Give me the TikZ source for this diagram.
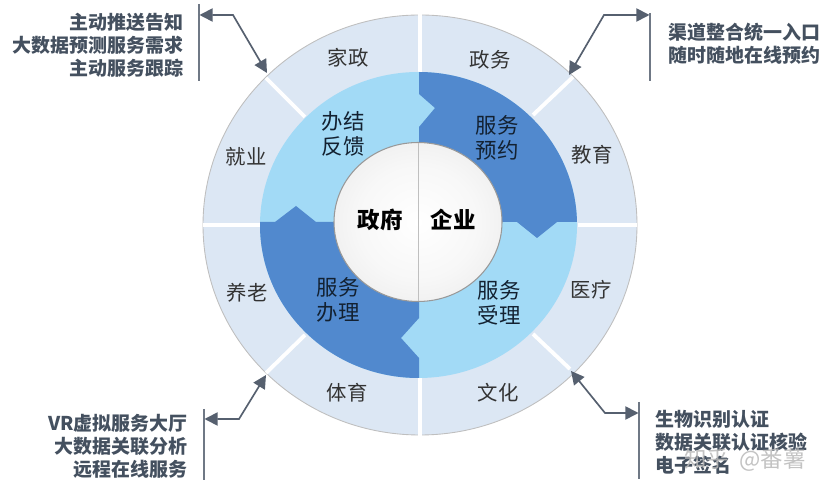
\documentclass[tikz,border=0pt]{standalone}
\usepackage{fontspec}
\setmainfont{Noto Sans CJK SC}
\usetikzlibrary{arrows.meta}
\definecolor{ringblue}{HTML}{DCE7F4}
\definecolor{lightblue}{HTML}{A2DAF6}
\definecolor{darkblue}{HTML}{5189CE}
\definecolor{leadgray}{HTML}{56606F}
\definecolor{notegray}{HTML}{44505F}
\pgfdeclareradialshading{sphereball}{\pgfpoint{0bp}{0bp}}{color(0bp)=(white); color(18bp)=(white!97!black); color(27bp)=(white!94!black); color(33bp)=(white!88!black); color(37bp)=(white!78!black); color(40bp)=(white!66!black); color(44bp)=(white!54!black); color(100bp)=(white!54!black)}
\tikzset{
	ringtext/.style={inner sep=0, text=black!80, font=\fontsize{11.6}{14}\selectfont},
	blocktext/.style={inner sep=0, align=center, text=black!60!darkblue!60!black, font=\fontsize{12.2}{14.2}\selectfont},
	coretext/.style={inner sep=0, font=\fontsize{12.8}{14}\bfseries\selectfont},
	notetext/.style={inner sep=0, text=notegray, font=\fontsize{10.8}{13.1}\bfseries\selectfont},
	leader/.style={{Triangle[length=7.5pt,width=7.5pt]}-{Triangle[length=7.5pt,width=7.5pt]}, line width=.95pt, color=leadgray},
	notebar/.style={line width=1pt, color=leadgray!85!white},
	gapline/.style={white, line width=2.2pt}
}
\begin{document}
\begin{tikzpicture}[x=.02cm, y=-.02cm]
	\useasboundingbox (0,0) rectangle (831,492);
	% outer ring
	\filldraw[fill=ringblue, draw=black!25, line width=.5pt] (420,225) ellipse (217 and 210);
	\draw[gapline] (420,14) -- (420,72);
	\draw[gapline] (420,378) -- (420,436);
	\draw[gapline] (203,225) -- (260,225);
	\draw[gapline] (578,225) -- (637,225);
	\draw[gapline] (266,78) -- (305,117);
	\draw[gapline] (573,77) -- (533,115);
	\draw[gapline] (266,373) -- (305,335);
	\draw[gapline] (570,369) -- (533,334);
	% puzzle blocks
	\fill[lightblue] (418.5,225) ellipse (158.5 and 153);
	\begin{scope}
		\clip (418.5,225) ellipse (158.5 and 153);
		\fill[darkblue] (419,60) -- (419,94) -- (435,108) -- (419,127) -- (419,222) -- (517,222) -- (537,238) -- (557,222) -- (590,222) -- (590,60) -- cycle;
		\fill[darkblue] (419,390) -- (419,358) -- (401,338) -- (419,318) -- (419,222) -- (316,222) -- (296,206) -- (275,222) -- (250,222) -- (250,390) -- cycle;
	\end{scope}
	% sphere
	\shade[shading=sphereball] (418,222) ellipse (84 and 79.5);
	\draw[black!40, line width=.6pt] (418,222) ellipse (84 and 79.5);
	\draw[black!25, line width=.4pt] (418,143) -- (418,301);
	% ring labels
	\node[ringtext] (jiazheng) at (348,58) {家政};
	\node[ringtext] (zhengwu) at (490,60) {政务};
	\node[ringtext] (jiaoyu) at (592,155) {教育};
	\node[ringtext] (jiuye) at (246,157) {就业};
	\node[ringtext] (yanglao) at (247,293) {养老};
	\node[ringtext] (yiliao) at (591,290) {医疗};
	\node[ringtext] (tiyu) at (347,393) {体育};
	\node[ringtext] (wenhua) at (498,393) {文化};
	% block labels
	\node[blocktext] (banjie) at (343,134) {办结\\反馈};
	\node[blocktext] (yuyue) at (497,138) {服务\\预约};
	\node[blocktext] (banli) at (338,300) {服务\\办理};
	\node[blocktext] (shouli) at (499,303) {服务\\受理};
	\node[coretext] (zhengfu) at (380,220) {政府};
	\node[coretext] (qiye) at (453,220) {企业};
	% top left note
	\coordinate (tlbartop) at (199,4);
	\coordinate (tlbarend) at (199,81);
	\coordinate (tlhit) at (199.5,15);
	\coordinate (tlknee) at (233,15);
	\coordinate (tlring) at (267,73);
	\draw[notebar] (tlbartop) -- (tlbarend);
	\draw[leader] (tlhit) -- (tlknee) -- (tlring);
	\node[notetext, anchor=east, align=right] (tlnote) at (184,45) {主动推送告知\\大数据预测服务需求\\主动服务跟踪};
	% top right note
	\coordinate (trbartop) at (650,13);
	\coordinate (trbarend) at (650,81);
	\coordinate (trhit) at (649.5,15);
	\coordinate (trknee) at (604,15);
	\coordinate (trring) at (569,75);
	\draw[notebar] (trbartop) -- (trbarend);
	\draw[leader] (trhit) -- (trknee) -- (trring);
	\node[notetext, anchor=west, align=left] (trnote) at (668,44) {渠道整合统一入口\\随时随地在线预约};
	% bottom left note
	\coordinate (blbartop) at (204,409);
	\coordinate (blbarend) at (204,480);
	\coordinate (blhit) at (204.5,419);
	\coordinate (blknee) at (239,419);
	\coordinate (blring) at (266,375);
	\draw[notebar] (blbartop) -- (blbarend);
	\draw[leader] (blhit) -- (blknee) -- (blring);
	\node[notetext, anchor=east, align=right] (blnote) at (188,446) {VR虚拟服务大厅\\大数据关联分析\\远程在线服务};
	% bottom right note
	\coordinate (brbartop) at (639,402);
	\coordinate (brbarend) at (639,479);
	\coordinate (brhit) at (638.5,413);
	\coordinate (brknee) at (605,413);
	\coordinate (brring) at (571,371);
	\draw[notebar] (brbartop) -- (brbarend);
	\draw[leader] (brhit) -- (brknee) -- (brring);
	\node[notetext, anchor=west, align=left] (brnote) at (655,442) {生物识别认证\\数据关联认证核验\\电子签名};
	% watermark
	\node[inner sep=0, text=white!72!black, opacity=.85, font=\fontsize{12.8}{14}\selectfont] (mark) at (745,460) {知乎\ \ @番薯};
\end{tikzpicture}
\end{document}
